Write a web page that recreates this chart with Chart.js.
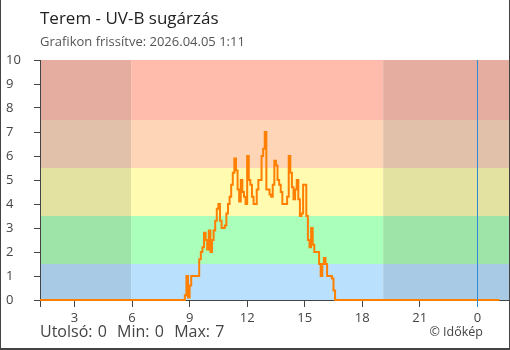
<!DOCTYPE html>
<html>
<head>
<meta charset="utf-8">
<script src="https://cdn.jsdelivr.net/npm/chart.js@4.4.1/dist/chart.umd.min.js"></script>
<style>
    html, body { margin: 0; padding: 0; background: #fff; }
    #wrap { position: relative; width: 510px; height: 350px; font-family: "Open Sans", sans-serif; }
    #uvChart { position: absolute; left: 0; top: 0; }
    #frame { position: absolute; left: 0; top: 0; width: 510px; height: 350px; box-sizing: border-box;
             border-left: 1px solid #444; border-right: 1px solid #444; border-bottom: 2px solid #444; pointer-events: none; }
    #title { position: absolute; left: 40px; top: 6px; font-size: 17px; color: #222; }
    #subtitle { position: absolute; left: 40px; top: 32px; font-size: 13px; color: #555; }
    #stats { position: absolute; left: 40px; top: 320px; font-size: 16px; color: #444; white-space: pre; word-spacing: 1px; }
    #credit { position: absolute; right: 27px; top: 323px; font-size: 12.5px; color: #444; }
</style>
</head>
<body>
<div id="wrap">
    <canvas id="uvChart" width="510" height="350"></canvas>
    <div id="title">Terem - UV-B sugárzás</div>
    <div id="subtitle">Grafikon frissítve: 2026.04.05 1:11</div>
    <div id="stats">Utolsó: 0  Min: 0  Max: 7</div>
    <div id="credit">© Időkép</div>
    <div id="frame"></div>
</div>
<script>
// measurement times (HH:MM, last one is after midnight)
const times = [
    '01:12',
    '08:40', '08:45', '08:50', '08:55', '09:00', '09:05', '09:10', '09:15', '09:20', '09:25',
    '09:30', '09:35', '09:40', '09:45', '09:50', '09:55', '10:00', '10:05', '10:10', '10:15',
    '10:20', '10:25', '10:30', '10:35', '10:40', '10:45', '10:50', '10:55', '11:00', '11:05',
    '11:10', '11:15', '11:20', '11:25', '11:30', '11:35', '11:40', '11:45', '11:50', '11:55',
    '12:00', '12:05', '12:10', '12:15', '12:20', '12:25', '12:30', '12:35', '12:40', '12:45',
    '12:50', '12:55', '13:00', '13:05', '13:10', '13:15', '13:20', '13:25', '13:30', '13:35',
    '13:40', '13:45', '13:50', '13:55', '14:00', '14:05', '14:10', '14:15', '14:20', '14:25',
    '14:30', '14:35', '14:40', '14:45', '14:50', '14:55', '15:00', '15:05', '15:10', '15:15',
    '15:20', '15:25', '15:30', '15:35', '15:40', '15:45', '15:50', '15:55', '16:00', '16:05',
    '16:10', '16:15', '16:20', '16:25', '16:30', '16:35',
    '01:09'
];

const uvValues = [
    0,
    0, 0.2, 1.0, 0.1, 0.6, 1.0, 1.0, 1.0, 1.0, 1.0,
    1.7, 2.0, 2.2, 2.8, 2.5, 2.1, 2.9, 2.0, 2.5, 2.9,
    3.3, 3.8, 4.0, 3.3, 3.0, 3.0, 3.1, 3.6, 4.0, 4.3,
    4.8, 5.3, 5.9, 5.4, 4.6, 4.1, 5.0, 4.5, 4.3, 4.0,
    6.0, 5.0, 4.8, 4.3, 4.0, 4.0, 4.6, 5.0, 5.0, 6.0,
    6.3, 7.0, 4.6, 4.6, 4.4, 4.3, 4.8, 5.8, 5.6, 5.0,
    4.8, 4.5, 4.0, 4.0, 4.0, 4.3, 6.0, 5.3, 4.7, 4.2,
    4.6, 5.0, 4.2, 3.5, 3.6, 4.8, 4.8, 3.5, 2.5, 2.2,
    3.0, 2.3, 2.0, 2.0, 2.0, 1.5, 1.0, 1.5, 1.75, 1.5,
    1.0, 1.0, 1.0, 0.9, 0.4, 0,
    0
];

// x axis (hours since previous midnight)
const xMin = 1.2;
const xMax = 25.65;
const xTickValues = [3, 6, 9, 12, 15, 18, 21, 24];
const midnight = 24;

// y axis
const yTickValues = [0, 1, 2, 3, 4, 5, 6, 7, 8, 9, 10];

// UV bands and day / night shading
const bandEdges = [0, 1.5, 3.5, 5.5, 7.5, 10];
const bandDayColors = ['#b9e0fd', '#aaffbb', '#fffbb0', '#ffd5b8', '#ffbcad'];
const bandNightColors = ['#a8cae4', '#9ee4a8', '#e4e2a1', '#e2c1aa', '#e5ada0'];
const sunrise = 5.95;
const sunset = 19.09;

function toHours(list) {
    let prev = -1;
    return list.map(t => {
        const [h, m] = t.split(':').map(Number);
        let v = h + m / 60;
        if (v < prev) v += 24;
        prev = v;
        return v;
    });
}

const hours = toHours(times);
const points = hours.map((h, i) => ({ x: h, y: uvValues[i] }));

const axisColor = '#444';
const lineBlue = '#2f8ad8';

const bandsPlugin = {
    id: 'uvBands',
    beforeDraw(chart) {
        const { ctx, chartArea, scales } = chart;
        const x = scales.x, y = scales.y;
        const segments = [
            [xMin, sunrise, bandNightColors],
            [sunrise, sunset, bandDayColors],
            [sunset, xMax, bandNightColors]
        ];
        ctx.save();
        segments.forEach(([from, to, colors]) => {
            const left = Math.max(x.getPixelForValue(from), chartArea.left);
            const right = Math.min(x.getPixelForValue(to), chartArea.right);
            for (let i = 0; i < colors.length; i++) {
                const top = y.getPixelForValue(bandEdges[i + 1]);
                const bottom = y.getPixelForValue(bandEdges[i]);
                ctx.fillStyle = colors[i];
                ctx.fillRect(left, top, right - left, bottom - top);
            }
        });
        ctx.restore();
    },
    afterDraw(chart) {
        // midnight marker, with its tick below the axis
        const { ctx, chartArea, scales } = chart;
        const px = Math.floor(scales.x.getPixelForValue(midnight));
        ctx.save();
        ctx.fillStyle = lineBlue;
        ctx.fillRect(px, chartArea.top, 1, chartArea.bottom - chartArea.top + 7);
        ctx.restore();
    }
};

new Chart(document.getElementById('uvChart'), {
    type: 'line',
    data: {
        datasets: [{
            data: points,
            borderColor: '#ff8000',
            borderWidth: 2,
            pointRadius: 0,
            stepped: true,
            fill: false,
            clip: false
        }]
    },
    options: {
        responsive: false,
        animation: false,
        layout: { padding: { left: 6, top: 60, right: 1, bottom: 0 } },
        plugins: {
            legend: { display: false },
            tooltip: { enabled: false }
        },
        scales: {
            x: {
                type: 'linear',
                min: xMin,
                max: xMax,
                afterBuildTicks(scale) {
                    scale.ticks = [xMin].concat(xTickValues).map(v => ({ value: v }));
                },
                afterFit(scale) { scale.height = 50; },
                grid: {
                    drawOnChartArea: false,
                    tickColor: c => (c.tick && c.tick.value === midnight) ? 'rgba(0,0,0,0)' : axisColor,
                    tickLength: 7,
                    lineWidth: 1
                },
                border: { display: true, color: axisColor },
                ticks: {
                    autoSkip: false,
                    maxRotation: 0,
                    padding: 3,
                    color: axisColor,
                    font: { family: 'Open Sans', size: 13 },
                    callback: v => v === xMin ? '' : String(v % 24)
                }
            },
            y: {
                min: 0,
                max: 10,
                afterBuildTicks(scale) {
                    scale.ticks = yTickValues.map(v => ({ value: v }));
                },
                afterFit(scale) { scale.width = 34; },
                grid: {
                    drawOnChartArea: false,
                    tickColor: axisColor,
                    tickLength: 6
                },
                border: { display: true, color: axisColor },
                ticks: {
                    crossAlign: 'far',
                    color: axisColor,
                    font: { family: 'Open Sans', size: 13 }
                }
            }
        }
    },
    plugins: [bandsPlugin]
});
</script>
</body>
</html>
